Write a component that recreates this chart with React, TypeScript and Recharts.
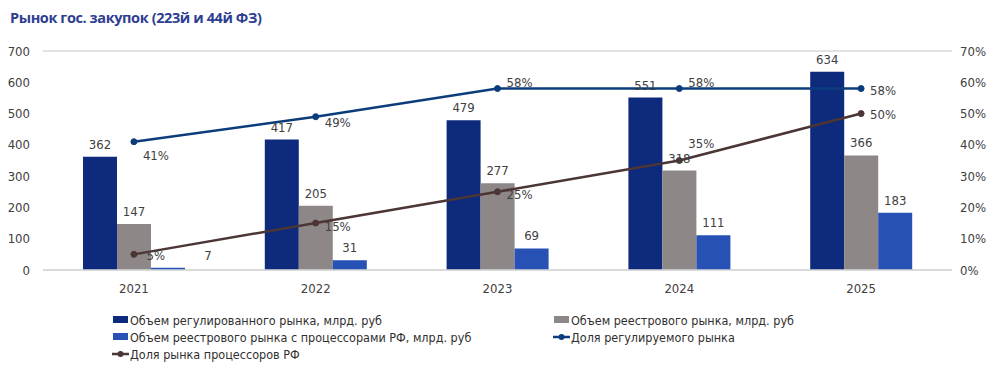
import React from "react";
import { ComposedChart, Bar, Line, XAxis, YAxis, CartesianGrid, LabelList } from "recharts";

const years = ["2021", "2022", "2023", "2024", "2025"];
const regulated = [362, 417, 479, 551, 634];
const registry = [147, 205, 277, 318, 366];
const registryRf = [7, 31, 69, 111, 183];
const regulatedShare = [41, 49, 58, 58, 58];
const processorShare = [5, 15, 25, 35, 50];
const leftTicks = [0, 100, 200, 300, 400, 500, 600, 700];
const rightTicks = [0, 10, 20, 30, 40, 50, 60, 70];

const data = years.map((year, i) => ({
  year,
  regulated: regulated[i],
  registry: registry[i],
  registryRf: registryRf[i],
  regulatedShare: regulatedShare[i],
  processorShare: processorShare[i],
}));

const C = {
  dark: "#0E2A7D",
  gray: "#8E8787",
  light: "#2751B5",
  line1: "#0C3C7C",
  line2: "#4B3535",
  text: "#404040",
  grid: "#D9D9D9",
  title: "#2D3E91",
};

const FONT = "'Liberation Sans Narrow', 'DejaVu Sans Condensed', 'Liberation Sans', sans-serif";

// label nudges for the percentage series, [dx, dy] per point
const shareOffsets = [[22, 14], [22, 6], [22, -6], [22, -6], [22, 2]];
const procOffsets = [[22, 1], [22, 3], [22, 3], [22, -17], [22, 1]];

const pctLabel = (offsets: number[][]) => (props: any) => {
  const { x, y, value, index } = props;
  const [dx, dy] = offsets[index] || [20, 0];
  return (
    <text x={x + dx} y={y + dy} dy="0.35em" textAnchor="middle" fill={C.text} fontSize={13} fontFamily={FONT}>
      {value}%
    </text>
  );
};

const rfLabel = (props: any) => {
  const { x, y, width, value, index } = props;
  const dx = index === 0 ? 40 : 0;
  return (
    <text x={x + width / 2 + dx} y={y - 8} textAnchor="middle" fill={C.text} fontSize={13} fontFamily={FONT}>
      {value}
    </text>
  );
};

const legendItems = [
  { label: "Объем регулированного рынка, млрд. руб", color: C.dark, type: "rect", col: 0, row: 0 },
  { label: "Объем реестрового рынка, млрд. руб", color: C.gray, type: "rect", col: 1, row: 0 },
  { label: "Объем реестрового рынка с процессорами РФ, млрд. руб", color: C.light, type: "rect", col: 0, row: 1 },
  { label: "Доля регулируемого рынка", color: C.line1, type: "line", col: 1, row: 1 },
  { label: "Доля рынка процессоров РФ", color: C.line2, type: "line", col: 0, row: 2 },
];

export default function App() {
  return (
    <div style={{ position: "absolute", left: 0, top: 0, width: 1000, height: 370, background: "#fff", fontFamily: FONT }}>
      <div
        style={{
          position: "absolute",
          left: 10,
          top: 8,
          fontSize: 14.5,
          fontWeight: 700,
          color: C.title,
          fontFamily: "'Open Sans', sans-serif",
          letterSpacing: -0.4,
        }}
      >
        Рынок гос. закупок (223й и 44й ФЗ)
      </div>
      <ComposedChart
        width={1000}
        height={300}
        data={data}
        margin={{ top: 51, right: 0, bottom: 0, left: 0 }}
        barGap={0}
        barSize={34}
      >
        <CartesianGrid vertical={false} stroke={C.grid} strokeWidth={1.5} />
        <XAxis
          dataKey="year"
          height={30}
          tickLine={false}
          axisLine={{ stroke: C.grid, strokeWidth: 1.5 }}
          tickMargin={8}
          tick={{ fill: C.text, fontSize: 13, fontFamily: FONT }}
        />
        <YAxis
          yAxisId="left"
          width={43}
          domain={[0, 700]}
          ticks={leftTicks}
          tickLine={false}
          axisLine={false}
          tickMargin={7}
          tick={{ fill: C.text, fontSize: 13, fontFamily: FONT }}
        />
        <YAxis
          yAxisId="right"
          orientation="right"
          width={48}
          domain={[0, 70]}
          ticks={rightTicks}
          tickFormatter={(v) => `${v}%`}
          tickLine={false}
          axisLine={false}
          tickMargin={2}
          tick={{ fill: C.text, fontSize: 13, fontFamily: FONT, textAnchor: "start" }}
        />
        <Bar yAxisId="left" dataKey="regulated" fill={C.dark} isAnimationActive={false}>
          <LabelList dataKey="regulated" position="top" offset={8} fill={C.text} fontSize={13} fontFamily={FONT} />
        </Bar>
        <Bar yAxisId="left" dataKey="registry" fill={C.gray} isAnimationActive={false}>
          <LabelList dataKey="registry" position="top" offset={8} fill={C.text} fontSize={13} fontFamily={FONT} />
        </Bar>
        <Bar yAxisId="left" dataKey="registryRf" fill={C.light} isAnimationActive={false}>
          <LabelList dataKey="registryRf" content={rfLabel} />
        </Bar>
        <Line
          yAxisId="right"
          dataKey="regulatedShare"
          stroke={C.line1}
          strokeWidth={2.5}
          dot={{ r: 3, fill: C.line1, stroke: C.line1, strokeWidth: 1 }}
          isAnimationActive={false}
        >
          <LabelList dataKey="regulatedShare" content={pctLabel(shareOffsets)} />
        </Line>
        <Line
          yAxisId="right"
          dataKey="processorShare"
          stroke={C.line2}
          strokeWidth={2.5}
          dot={{ r: 3, fill: C.line2, stroke: C.line2, strokeWidth: 1 }}
          isAnimationActive={false}
        >
          <LabelList dataKey="processorShare" content={pctLabel(procOffsets)} />
        </Line>
      </ComposedChart>
      {legendItems.map((it) => (
        <div
          key={it.label}
          style={{
            position: "absolute",
            left: it.col === 0 ? 112 : 553,
            top: 312 + it.row * 17,
            height: 16,
            display: "flex",
            alignItems: "center",
            fontSize: 12.5,
            color: "#303030",
            whiteSpace: "nowrap",
          }}
        >
          <svg width={17} height={16} style={{ marginRight: 1 }}>
            {it.type === "rect" ? (
              <rect x={1} y={4} width={15} height={7} fill={it.color} />
            ) : (
              <g>
                <line x1={0} y1={8} x2={17} y2={8} stroke={it.color} strokeWidth={2.5} />
                <circle cx={8.5} cy={8} r={3} fill={it.color} />
              </g>
            )}
          </svg>
          {it.label}
        </div>
      ))}
    </div>
  );
}
